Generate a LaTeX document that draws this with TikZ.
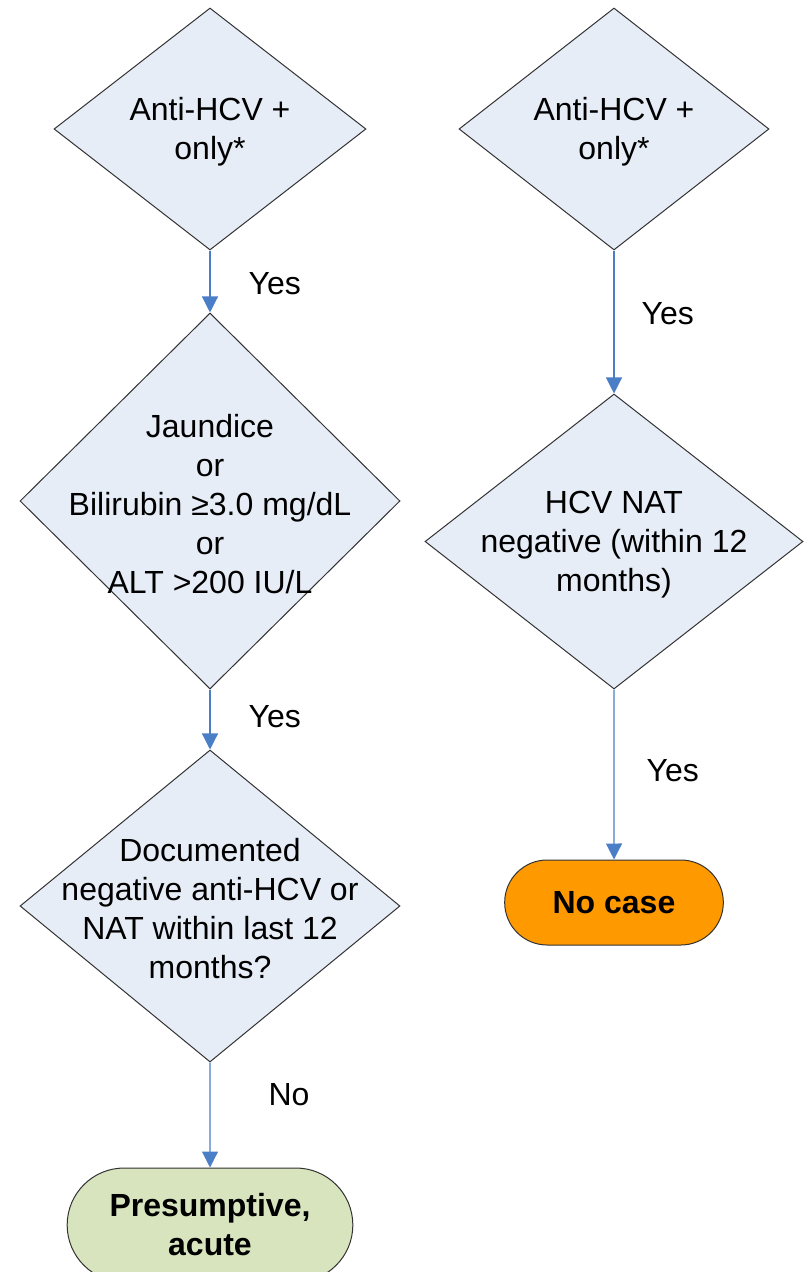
\documentclass[tikz,border=0pt]{standalone}
\usepackage{fontspec}
\setmainfont{Liberation Sans}
\usetikzlibrary{shapes.geometric, shapes.misc, arrows.meta, positioning}

\definecolor{diamondfill}{RGB}{231,237,247}
\definecolor{arrowblue}{RGB}{74,126,199}
\definecolor{presumpgreen}{RGB}{215,228,189}
\definecolor{nocaseorange}{RGB}{255,153,0}

\begin{document}
\begin{tikzpicture}[
    x=0.5pt, y=-0.5pt,
    every node/.style={font=\fontsize{16}{19.5}\selectfont},
    decision/.style={diamond, draw=black!80, fill=diamondfill, line width=0.5pt, inner sep=0pt},
    diamondtext/.style={align=center, inner sep=0pt, yshift=-1.5pt},
    terminal/.style={rounded rectangle, draw=black!80, line width=0.5pt, align=center,
        font=\fontsize{16}{19.5}\selectfont\bfseries},
    arrow/.style={-{Triangle[length=8pt, width=8pt]}, line width=0.6pt, draw=arrowblue},
    answer/.style={inner sep=0pt},
]
\useasboundingbox (0,0) rectangle (808,1272);

% ============ Left branch ============
\node[decision, minimum width=156pt, minimum height=121pt,
      label={[diamondtext]center:Anti-HCV +\\only*}] (antiL) at (210,129) {};
\node[decision, minimum width=190pt, minimum height=188pt, below=31pt of antiL,
      label={[diamondtext]center:Jaundice\\or\\Bilirubin ≥3.0 mg/dL\\or\\ALT >200 IU/L}] (jaundice) {};
\node[decision, minimum width=190pt, minimum height=156pt, below=30pt of jaundice,
      label={[diamondtext]center:Documented\\negative anti-HCV or\\NAT within last 12\\months?}] (documented) {};
\node[terminal, fill=presumpgreen, minimum width=149.5pt, minimum height=57pt,
      below=52.5pt of documented] (presumptive) {Presumptive,\\acute};

% ============ Right branch ============
\node[decision, minimum width=155pt, minimum height=121pt, right=46pt of antiL,
      label={[diamondtext]center:Anti-HCV +\\only*}] (antiR) {};
\node[decision, minimum width=189pt, minimum height=147.5pt, below=71.5pt of antiR,
      label={[diamondtext]center:HCV NAT\\negative (within 12\\months)}] (natneg) {};
\node[terminal, fill=nocaseorange, minimum width=116pt, minimum height=42.5pt,
      below=85pt of natneg] (nocase) {No case};

% ============ Arrows ============
\draw[arrow] (antiL) -- node[answer, right=19pt, pos=0.53] {Yes} (jaundice);
\draw[arrow] (jaundice) -- node[answer, right=19pt, pos=0.45] {Yes} (documented);
\draw[arrow] (documented) -- node[answer, right=29pt, pos=0.31] {No} (presumptive);
\draw[arrow] (antiR) -- node[answer, right=13.5pt, pos=0.44] {Yes} (natneg);
\draw[arrow] (natneg) -- node[answer, right=16pt, pos=0.48] {Yes} (nocase);

\end{tikzpicture}
\end{document}
